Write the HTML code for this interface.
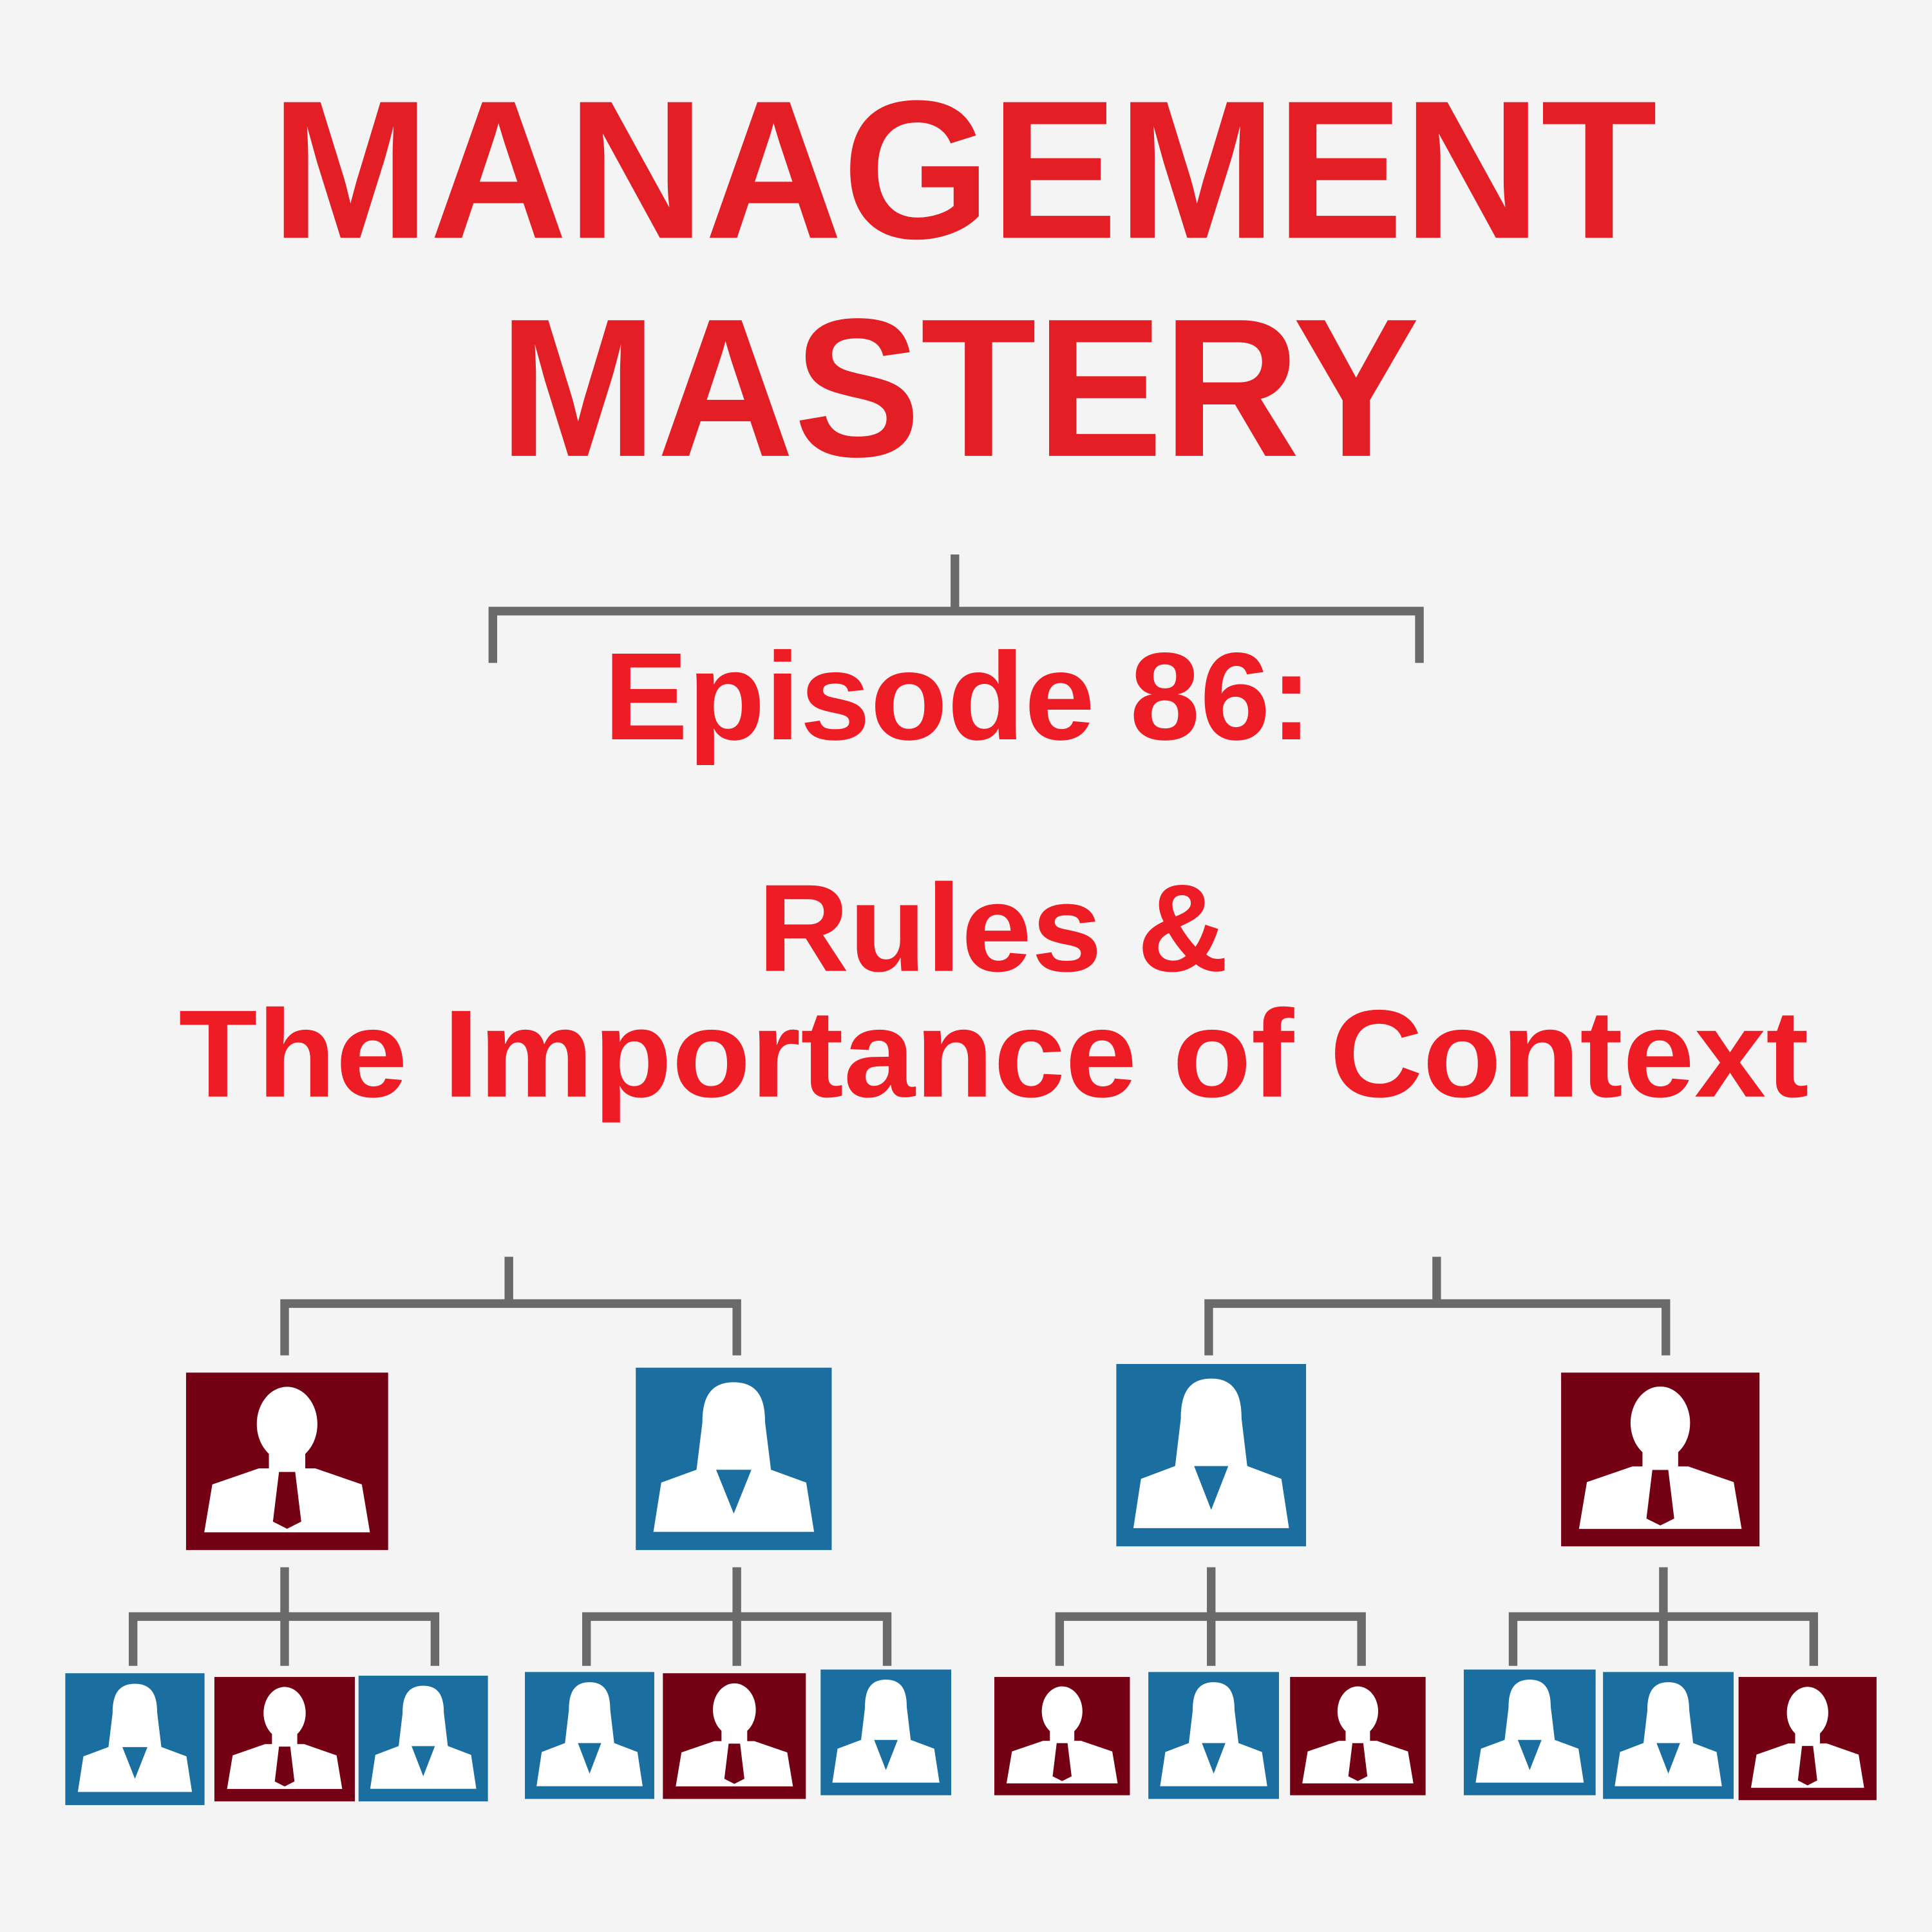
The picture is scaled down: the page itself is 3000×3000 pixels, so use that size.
<!DOCTYPE html>
<html><head><meta charset="utf-8"><style>html,body{margin:0;padding:0;background:#f4f4f4}svg{display:block}</style></head>
<body>
<svg width="3000" height="3000" viewBox="0 0 1568 1568" xmlns="http://www.w3.org/2000/svg">
<defs>
<symbol id="m" viewBox="0 0 100 100" preserveAspectRatio="none">
<ellipse cx="50" cy="29" rx="15" ry="21" fill="#fff"/>
<rect x="41" y="40" width="18" height="16" fill="#fff"/>
<polygon points="9,90 13,63 36,54 64,54 87,63 91,90" fill="#fff"/>
<polygon points="46,56 54,56 57,84 50,88 43,84" fill="currentColor"/>
</symbol>
<symbol id="f" viewBox="0 0 100 100" preserveAspectRatio="none">
<path d="M50 8 C37 8 34 18 34 30 L31 56 L69 56 L66 30 C66 18 63 8 50 8Z" fill="#fff"/>
<polygon points="9,90 13,63 36,54 64,54 87,63 91,90" fill="#fff"/>
<polygon points="41,56 59,56 50,80" fill="currentColor"/>
</symbol>
</defs>
<rect width="1568" height="1568" fill="#f4f4f4"/>
<g font-family="'Liberation Sans', Arial, sans-serif" font-weight="bold">
<text x="220" y="193" font-size="160" fill="#e31e24" textLength="1125" lengthAdjust="spacingAndGlyphs">MANAGEMENT</text>
<text x="405" y="370" font-size="160" fill="#e31e24" textLength="747" lengthAdjust="spacingAndGlyphs">MASTERY</text>
<text x="490" y="600" font-size="101" fill="#ee1c25" textLength="575" lengthAdjust="spacingAndGlyphs">Episode 86:</text>
<text x="615" y="788" font-size="101" fill="#ee1c25" textLength="382" lengthAdjust="spacingAndGlyphs">Rules &amp;</text>
<text x="145" y="890" font-size="101" fill="#ee1c25" textLength="1323" lengthAdjust="spacingAndGlyphs">The Importance of Context</text>
</g>
<g stroke="#6a6a6a" stroke-width="7" fill="none">
<path d="M775 450 V496 M400 538 V496 H1152 V538"/>
<path d="M413 1020 V1058 M231 1100 V1058 H598 V1100"/>
<path d="M1166 1020 V1058 M981 1100 V1058 H1352 V1100"/>
<path d="M231 1272 V1352 M108 1352 V1312 H353 V1352"/>
<path d="M598 1272 V1352 M476 1352 V1312 H720 V1352"/>
<path d="M983 1272 V1352 M860 1352 V1312 H1105 V1352"/>
<path d="M1350 1272 V1352 M1228 1352 V1312 H1472 V1352"/>
</g>
<g>
<rect x="151" y="1114" width="164" height="144" fill="#740014"/><use href="#m" x="151" y="1114" width="164" height="144" color="#740014"/>
<rect x="516" y="1110" width="159" height="148" fill="#1a6fa0"/><use href="#f" x="516" y="1110" width="159" height="148" color="#1a6fa0"/>
<rect x="906" y="1107" width="154" height="148" fill="#1a6fa0"/><use href="#f" x="906" y="1107" width="154" height="148" color="#1a6fa0"/>
<rect x="1267" y="1114" width="161" height="141" fill="#740014"/><use href="#m" x="1267" y="1114" width="161" height="141" color="#740014"/>
<rect x="53" y="1358" width="113" height="107" fill="#1a6fa0"/><use href="#f" x="53" y="1358" width="113" height="107" color="#1a6fa0"/>
<rect x="174" y="1361" width="114" height="101" fill="#740014"/><use href="#m" x="174" y="1361" width="114" height="101" color="#740014"/>
<rect x="291" y="1360" width="105" height="102" fill="#1a6fa0"/><use href="#f" x="291" y="1360" width="105" height="102" color="#1a6fa0"/>
<rect x="426" y="1357" width="105" height="103" fill="#1a6fa0"/><use href="#f" x="426" y="1357" width="105" height="103" color="#1a6fa0"/>
<rect x="538" y="1358" width="116" height="102" fill="#740014"/><use href="#m" x="538" y="1358" width="116" height="102" color="#740014"/>
<rect x="666" y="1355" width="106" height="102" fill="#1a6fa0"/><use href="#f" x="666" y="1355" width="106" height="102" color="#1a6fa0"/>
<rect x="807" y="1361" width="110" height="96" fill="#740014"/><use href="#m" x="807" y="1361" width="110" height="96" color="#740014"/>
<rect x="932" y="1357" width="106" height="103" fill="#1a6fa0"/><use href="#f" x="932" y="1357" width="106" height="103" color="#1a6fa0"/>
<rect x="1047" y="1361" width="110" height="96" fill="#740014"/><use href="#m" x="1047" y="1361" width="110" height="96" color="#740014"/>
<rect x="1188" y="1355" width="107" height="102" fill="#1a6fa0"/><use href="#f" x="1188" y="1355" width="107" height="102" color="#1a6fa0"/>
<rect x="1301" y="1357" width="106" height="103" fill="#1a6fa0"/><use href="#f" x="1301" y="1357" width="106" height="103" color="#1a6fa0"/>
<rect x="1411" y="1361" width="112" height="100" fill="#740014"/><use href="#m" x="1411" y="1361" width="112" height="100" color="#740014"/>
</g>
</svg>
</body></html>
